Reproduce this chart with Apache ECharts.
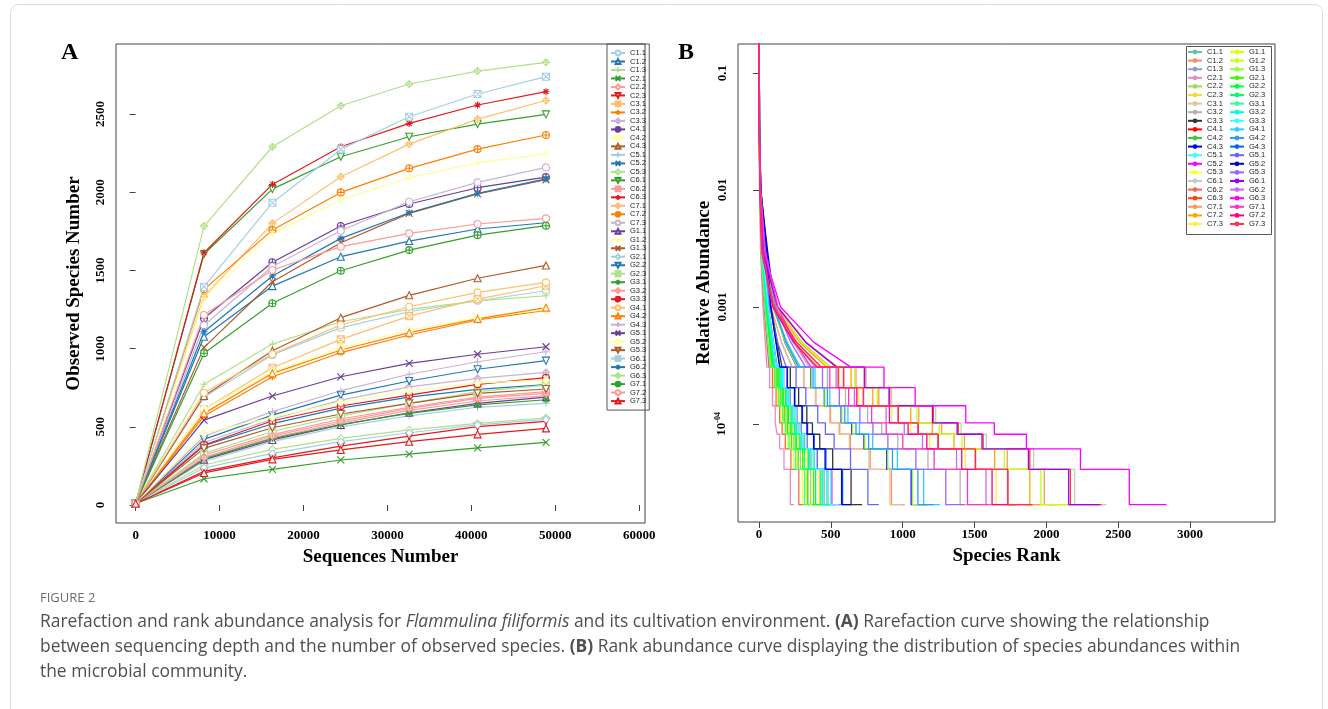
<!DOCTYPE html>
<html>
<head>
<meta charset="utf-8">
<script src="https://cdn.jsdelivr.net/npm/echarts@6/dist/echarts.min.js"></script>
<style>
  html, body { margin: 0; padding: 0; background: #fff; }
  #main { width: 1328px; height: 709px; }
</style>
</head>
<body>
<div id="main"></div>
<script>
// sample names (same order in both panels)
var sampleNames = ['C1.1', 'C1.2', 'C1.3', 'C2.1', 'C2.2', 'C2.3', 'C3.1', 'C3.2', 'C3.3',
    'C4.1', 'C4.2', 'C4.3', 'C5.1', 'C5.2', 'C5.3', 'C6.1', 'C6.2', 'C6.3', 'C7.1', 'C7.2', 'C7.3',
    'G1.1', 'G1.2', 'G1.3', 'G2.1', 'G2.2', 'G2.3', 'G3.1', 'G3.2', 'G3.3', 'G4.1', 'G4.2', 'G4.3',
    'G5.1', 'G5.2', 'G5.3', 'G6.1', 'G6.2', 'G6.3', 'G7.1', 'G7.2', 'G7.3'];

// panel A : rarefaction
var depthA = [0, 8150, 16300, 24450, 32600, 40750, 48900];
var observedA = [
    [10, 690, 960, 1134, 1236, 1306, 1370],
    [10, 1076, 1400, 1588, 1688, 1765, 1805],
    [10, 772, 1029, 1172, 1251, 1306, 1338],
    [10, 168, 228, 288, 326, 366, 401],
    [10, 300, 430, 525, 605, 665, 700],
    [10, 215, 302, 377, 441, 501, 535],
    [10, 612, 878, 1059, 1208, 1317, 1402],
    [10, 569, 820, 974, 1087, 1183, 1245],
    [10, 400, 550, 671, 756, 810, 848],
    [10, 1194, 1552, 1784, 1925, 2029, 2097],
    [10, 612, 850, 1008, 1119, 1198, 1250],
    [10, 697, 987, 1198, 1341, 1450, 1532],
    [10, 280, 405, 500, 570, 625, 650],
    [10, 380, 520, 620, 690, 740, 770],
    [10, 256, 356, 426, 480, 522, 558],
    [10, 1605, 2020, 2227, 2355, 2436, 2498],
    [10, 320, 450, 550, 625, 690, 725],
    [10, 1613, 2050, 2291, 2440, 2558, 2643],
    [10, 1332, 1801, 2099, 2308, 2468, 2587],
    [10, 1379, 1758, 1999, 2153, 2276, 2366],
    [10, 1150, 1525, 1754, 1939, 2063, 2159],
    [10, 290, 416, 512, 590, 650, 690],
    [10, 1320, 1737, 1950, 2093, 2189, 2246],
    [10, 1008, 1428, 1677, 1865, 1990, 2080],
    [10, 238, 330, 405, 462, 512, 548],
    [10, 420, 575, 703, 793, 868, 923],
    [10, 330, 470, 570, 650, 725, 767],
    [10, 295, 425, 515, 586, 640, 673],
    [10, 305, 441, 537, 618, 682, 714],
    [10, 384, 539, 633, 703, 772, 814],
    [10, 718, 965, 1151, 1268, 1360, 1424],
    [10, 586, 842, 991, 1102, 1190, 1262],
    [10, 440, 597, 731, 836, 916, 980],
    [10, 543, 697, 820, 906, 964, 1012],
    [10, 458, 560, 657, 729, 780, 800],
    [10, 362, 494, 582, 650, 714, 742],
    [10, 1396, 1933, 2274, 2483, 2628, 2739],
    [10, 1108, 1464, 1705, 1869, 1993, 2085],
    [10, 1784, 2291, 2553, 2692, 2775, 2831],
    [10, 970, 1290, 1498, 1630, 1726, 1786],
    [10, 1215, 1503, 1652, 1737, 1797, 1833],
    [10, 205, 292, 352, 405, 452, 490]
];
var ticksAx = [0, 10000, 20000, 30000, 40000, 50000, 60000];
var ticksAy = [0, 500, 1000, 1500, 2000, 2500];

// panel B : rank abundance (rank where each abundance level is reached)
var headLevelsB = [0.3, 0.03, 0.01, 0.003, 0.001, 0.0005];
var tailLevelsB = [3.06e-4, 2.04e-4, 1.43e-4, 1.02e-4, 8.16e-5, 6.12e-5, 4.08e-5, 2.04e-5];
var headRanksB = [
    [1, 3, 10, 24, 62, 96], [1, 3, 7, 28, 83, 157], [1, 3, 9, 23, 59, 91], [1, 2, 4, 11, 28, 44],
    [1, 3, 7, 18, 47, 72], [1, 3, 8, 21, 55, 84], [1, 3, 7, 27, 82, 155], [1, 4, 11, 42, 126, 238],
    [1, 4, 13, 32, 83, 128], [1, 2, 7, 21, 104, 260], [1, 2, 7, 17, 44, 68], [1, 4, 12, 60, 110, 180],
    [1, 3, 9, 24, 61, 94], [1, 4, 10, 25, 66, 101], [1, 2, 6, 15, 39, 60], [1, 3, 9, 26, 132, 330],
    [1, 2, 6, 14, 36, 55], [1, 3, 9, 26, 130, 325], [1, 2, 8, 24, 119, 298], [1, 2, 8, 23, 113, 283],
    [1, 2, 7, 20, 99, 248], [1, 2, 7, 17, 43, 66], [1, 2, 8, 24, 118, 294], [1, 3, 9, 32, 96, 182],
    [1, 3, 8, 19, 49, 76], [1, 3, 8, 20, 51, 79], [1, 3, 9, 22, 56, 86], [1, 2, 6, 16, 41, 63],
    [1, 3, 9, 22, 57, 88], [1, 4, 10, 25, 65, 100], [1, 3, 9, 34, 103, 195], [1, 3, 9, 33, 100, 188],
    [1, 4, 14, 50, 80, 120], [1, 3, 8, 40, 75, 129], [1, 4, 13, 55, 82, 118], [1, 4, 10, 39, 117, 221],
    [1, 3, 9, 26, 129, 323], [1, 2, 6, 19, 95, 237], [1, 3, 10, 31, 150, 380], [1, 4, 12, 44, 131, 247],
    [1, 2, 6, 19, 97, 243], [1, 2, 7, 21, 104, 260]
];
var tailRanksB = [
    [120, 163, 206, 250, 278, 317, 384, 480, 538],
    [231, 313, 396, 498, 562, 636, 774, 922, 1014],
    [113, 154, 195, 236, 263, 299, 362, 453, 507],
    [55, 74, 94, 113, 126, 144, 174, 218, 244],
    [90, 122, 155, 187, 209, 238, 288, 360, 403],
    [105, 143, 181, 218, 244, 277, 336, 420, 470],
    [228, 310, 392, 492, 556, 629, 765, 911, 1002],
    [350, 476, 602, 756, 854, 966, 1176, 1400, 1540],
    [160, 218, 276, 333, 372, 423, 513, 641, 718],
    [433, 589, 727, 970, 1108, 1247, 1507, 1732, 1905],
    [85, 116, 146, 177, 197, 224, 272, 340, 381],
    [265, 360, 455, 572, 646, 731, 890, 1059, 1165],
    [118, 160, 202, 244, 273, 310, 376, 470, 526],
    [127, 172, 218, 264, 294, 335, 406, 507, 568],
    [75, 102, 129, 156, 174, 198, 240, 300, 336],
    [549, 747, 923, 1230, 1406, 1582, 1911, 2197, 2417],
    [69, 94, 119, 144, 161, 183, 222, 277, 310],
    [542, 737, 910, 1214, 1387, 1560, 1885, 2167, 2384],
    [497, 675, 834, 1112, 1271, 1430, 1728, 1986, 2185],
    [471, 641, 792, 1056, 1206, 1357, 1640, 1885, 2074],
    [413, 561, 693, 924, 1056, 1188, 1436, 1650, 1815],
    [83, 112, 142, 172, 191, 218, 264, 330, 370],
    [491, 667, 824, 1099, 1256, 1413, 1707, 1962, 2158],
    [267, 363, 459, 577, 651, 737, 897, 1068, 1175],
    [95, 129, 163, 198, 220, 251, 304, 380, 426],
    [99, 134, 169, 205, 229, 260, 315, 394, 441],
    [108, 146, 185, 224, 249, 284, 344, 430, 482],
    [79, 108, 136, 165, 184, 209, 254, 317, 355],
    [110, 150, 190, 229, 256, 291, 353, 441, 494],
    [125, 170, 215, 260, 290, 330, 400, 500, 560],
    [287, 390, 493, 619, 699, 791, 963, 1146, 1261],
    [277, 376, 476, 597, 675, 763, 929, 1106, 1217],
    [146, 198, 250, 303, 338, 384, 466, 582, 652],
    [190, 258, 326, 409, 462, 523, 637, 758, 834],
    [144, 196, 247, 299, 334, 380, 460, 575, 644],
    [325, 442, 559, 702, 793, 897, 1092, 1300, 1430],
    [539, 733, 905, 1207, 1379, 1552, 1875, 2155, 2371],
    [395, 537, 664, 885, 1011, 1138, 1375, 1580, 1738],
    [640, 870, 1087, 1439, 1638, 1861, 2237, 2577, 2836],
    [363, 493, 624, 784, 885, 1001, 1219, 1451, 1596],
    [406, 551, 681, 908, 1038, 1168, 1411, 1622, 1784],
    [433, 588, 727, 969, 1107, 1246, 1505, 1730, 1903]
];
var ticksBx = [0, 500, 1000, 1500, 2000, 2500, 3000];
var ticksBy = [1e-4, 1e-3, 1e-2, 0.1];
var tickLabelsBy = ['10{sup|-04}', '0.001', '0.01', '0.1'];

// styles
var pairedColors = ['#A6CEE3', '#1F78B4', '#B2DF8A', '#33A02C', '#FB9A99', '#E31A1C',
    '#FDBF6F', '#FF7F00', '#CAB2D6', '#6A3D9A', '#FFFF99', '#B15928'];
var pchSymbols = [
    'path://M5,0A5,5,0,1,1,4.99,0Z',
    'path://M5,0L10,9L0,9Z',
    'path://M5,0L5,10M0,5L10,5',
    'path://M0,0L10,10M10,0L0,10',
    'path://M5,0L10,5L5,10L0,5Z',
    'path://M0,1L10,1L5,10Z',
    'path://M0,0L10,0L10,10L0,10ZM0,0L10,10M10,0L0,10',
    'path://M5,0L5,10M0,5L10,5M1.5,1.5L8.5,8.5M8.5,1.5L1.5,8.5',
    'path://M5,0L10,5L5,10L0,5ZM5,0L5,10M0,5L10,5',
    'path://M5,0A5,5,0,1,1,4.99,0ZM5,0L5,10M0,5L10,5'
];
var colorsB = ['#66C2A5', '#FC8D62', '#8DA0CB', '#E78AC3', '#A6D854', '#FFD92F', '#E5C494', '#B3B3B3',
    '#333333', '#FF0000', '#33CC33', '#0000FF', '#33FFFF', '#FF00FF', '#FFFF33', '#C8C8C8', '#F06A50',
    '#FF4500', '#FF9955', '#FFA500', '#FFEE44',
    '#E0FF00', '#C2FF1A', '#99FF33', '#33FF00', '#00FF33', '#00FF66', '#33FF99', '#00FFCC', '#33FFFF',
    '#33CCFF', '#3399FF', '#0066FF', '#6666FF', '#0000CC', '#9966FF', '#9900FF', '#CC66FF', '#FF00FF',
    '#FF33CC', '#FF0080', '#FF3355'];

var serif = 'Liberation Serif';
var sans = 'Liberation Sans';

var myChart = echarts.init(document.getElementById('main'));

var series = [];
sampleNames.forEach(function (name, i) {
    var c = pairedColors[i % 12];
    series.push({
        name: name,
        type: 'line',
        xAxisIndex: 0,
        yAxisIndex: 0,
        data: depthA.map(function (d, j) { return [d, observedA[i][j]]; }),
        symbol: pchSymbols[i % 10],
        symbolSize: 7,
        lineStyle: { color: c, width: 1.2 },
        itemStyle: { color: '#fff', borderColor: c, borderWidth: 1.1 },
        emphasis: { disabled: true },
        z: 2
    });
});
sampleNames.forEach(function (name, i) {
    var c = colorsB[i];
    var head = headLevelsB.map(function (lv, j) { return [headRanksB[i][j], lv]; });
    head.push([tailRanksB[i][0], tailLevelsB[0]]);
    var tail = tailLevelsB.map(function (lv, j) { return [tailRanksB[i][j], lv]; });
    tail.push([tailRanksB[i][8], tailLevelsB[7]]);
    [head, tail].forEach(function (d, k) {
        series.push({
            name: 'B ' + name,
            type: 'line',
            xAxisIndex: 1,
            yAxisIndex: 1,
            data: d,
            step: k ? 'end' : false,
            symbol: 'none',
            lineStyle: { color: c, width: 1.3 },
            itemStyle: { color: c },
            emphasis: { disabled: true },
            clip: true
        });
    });
});

function plain(v) { return String(v); }

var axisFont = { fontFamily: serif, fontWeight: 'bold', fontSize: 13, color: '#000' };
var titleFont = { fontFamily: serif, fontWeight: 'bold', fontSize: 19, color: '#000' };

var option = {
    animation: false,
    backgroundColor: '#fff',
    grid: [
        { left: 116, top: 44, width: 529, height: 479, show: true, borderColor: '#444', borderWidth: 1, containLabel: false },
        { left: 738, top: 44, width: 537, height: 478, show: true, borderColor: '#444', borderWidth: 1, containLabel: false }
    ],
    xAxis: [
        {
            type: 'value', gridIndex: 0, min: -2340, max: 60700,
            splitLine: { show: false }, axisLine: { show: false },
            axisTick: { show: true, length: 6, lineStyle: { color: '#444' }, customValues: ticksAx },
            axisLabel: Object.assign({ margin: 6, customValues: ticksAx, formatter: plain }, axisFont),
            name: 'Sequences Number', nameLocation: 'middle', nameGap: 25, nameTextStyle: titleFont
        },
        {
            type: 'value', gridIndex: 1, min: -146, max: 3591,
            splitLine: { show: false }, axisLine: { show: false },
            axisTick: { show: true, length: 6, lineStyle: { color: '#444' }, customValues: ticksBx },
            axisLabel: Object.assign({ margin: 6, customValues: ticksBx, formatter: plain }, axisFont),
            name: 'Species Rank', nameLocation: 'middle', nameGap: 25, nameTextStyle: titleFont
        }
    ],
    yAxis: [
        {
            type: 'value', gridIndex: 0, min: -115, max: 2948,
            splitLine: { show: false }, axisLine: { show: false },
            axisTick: { show: true, length: 6, lineStyle: { color: '#444' }, customValues: ticksAy },
            axisLabel: Object.assign({ margin: 9, rotate: 90, customValues: ticksAy, formatter: plain }, axisFont),
            name: 'Observed Species Number', nameLocation: 'middle', nameGap: 32, nameTextStyle: titleFont
        },
        {
            type: 'log', gridIndex: 1, min: 1.45e-5, max: 0.177,
            splitLine: { show: false }, axisLine: { show: false },
            axisTick: { show: true, length: 6, lineStyle: { color: '#444' }, customValues: ticksBy },
            axisLabel: Object.assign({
                margin: 9, rotate: 90, customValues: ticksBy,
                formatter: function (v) {
                    return tickLabelsBy[Math.round(Math.log10(v)) + 4];
                },
                rich: { sup: { fontFamily: serif, fontWeight: 'bold', fontSize: 8, padding: [0, 0, 7, 0] } }
            }, axisFont),
            name: 'Relative Abundance', nameLocation: 'middle', nameGap: 21, nameTextStyle: titleFont
        }
    ],
    legend: [
        {
            data: sampleNames, orient: 'vertical', left: 607, top: 44,
            padding: [5, 3, 5, 3], borderColor: '#555', borderWidth: 1,
            itemWidth: 14, itemHeight: 6, itemGap: 0.49, selectedMode: false,
            textStyle: { fontFamily: sans, fontSize: 7.5, lineHeight: 8, color: '#222' }
        },
        {
            data: sampleNames.slice(0, 21).map(function (n) { return 'B ' + n; }),
            orient: 'vertical', left: 1187, top: 48, padding: 0,
            itemWidth: 14, itemHeight: 6, itemGap: 0.6, selectedMode: false,
            formatter: function (n) { return n.slice(2); },
            textStyle: { fontFamily: sans, fontSize: 7.5, lineHeight: 8, color: '#222' }
        },
        {
            data: sampleNames.slice(21).map(function (n) { return 'B ' + n; }),
            orient: 'vertical', left: 1229, top: 48, padding: 0,
            itemWidth: 14, itemHeight: 6, itemGap: 0.6, selectedMode: false,
            formatter: function (n) { return n.slice(2); },
            textStyle: { fontFamily: sans, fontSize: 7.5, lineHeight: 8, color: '#222' }
        }
    ],
    graphic: [
        { type: 'rect', left: 8, top: 2, shape: { width: 1312, height: 740, r: 8 }, style: { fill: 'none', stroke: '#dcdcdc', lineWidth: 1 }, silent: true },
        { type: 'rect', left: 1184, top: 44, shape: { width: 85, height: 188 }, style: { fill: 'none', stroke: '#555', lineWidth: 1 }, silent: true },
        { type: 'text', left: 61, top: 41, style: { text: 'A', font: 'bold 24px "Liberation Serif"', fill: '#000' } },
        { type: 'text', left: 678, top: 41, style: { text: 'B', font: 'bold 24px "Liberation Serif"', fill: '#000' } },
        { type: 'text', left: 40, top: 592, style: { text: 'FIGURE 2', font: '13px "Open Sans"', fill: '#6b6b6b' } },
        {
            type: 'text', left: 40, top: 610,
            style: {
                text: 'Rarefaction and rank abundance analysis for {i|Flammulina filiformis} and its cultivation environment. {b|(A)} Rarefaction curve showing the relationship\n' +
                    'between sequencing depth and the number of observed species. {b|(B)} Rank abundance curve displaying the distribution of species abundances within\n' +
                    'the microbial community.',
                font: '17.4px "Open Sans"', fill: '#4f4f4f', lineHeight: 25,
                rich: {
                    i: { fontStyle: 'italic', fontFamily: 'Open Sans', fontSize: 17.4, fill: '#4f4f4f' },
                    b: { fontWeight: 'bold', fontFamily: 'Open Sans', fontSize: 17.4, fill: '#4f4f4f' }
                }
            }
        }
    ],
    series: series
};

myChart.setOption(option);
</script>
</body>
</html>
